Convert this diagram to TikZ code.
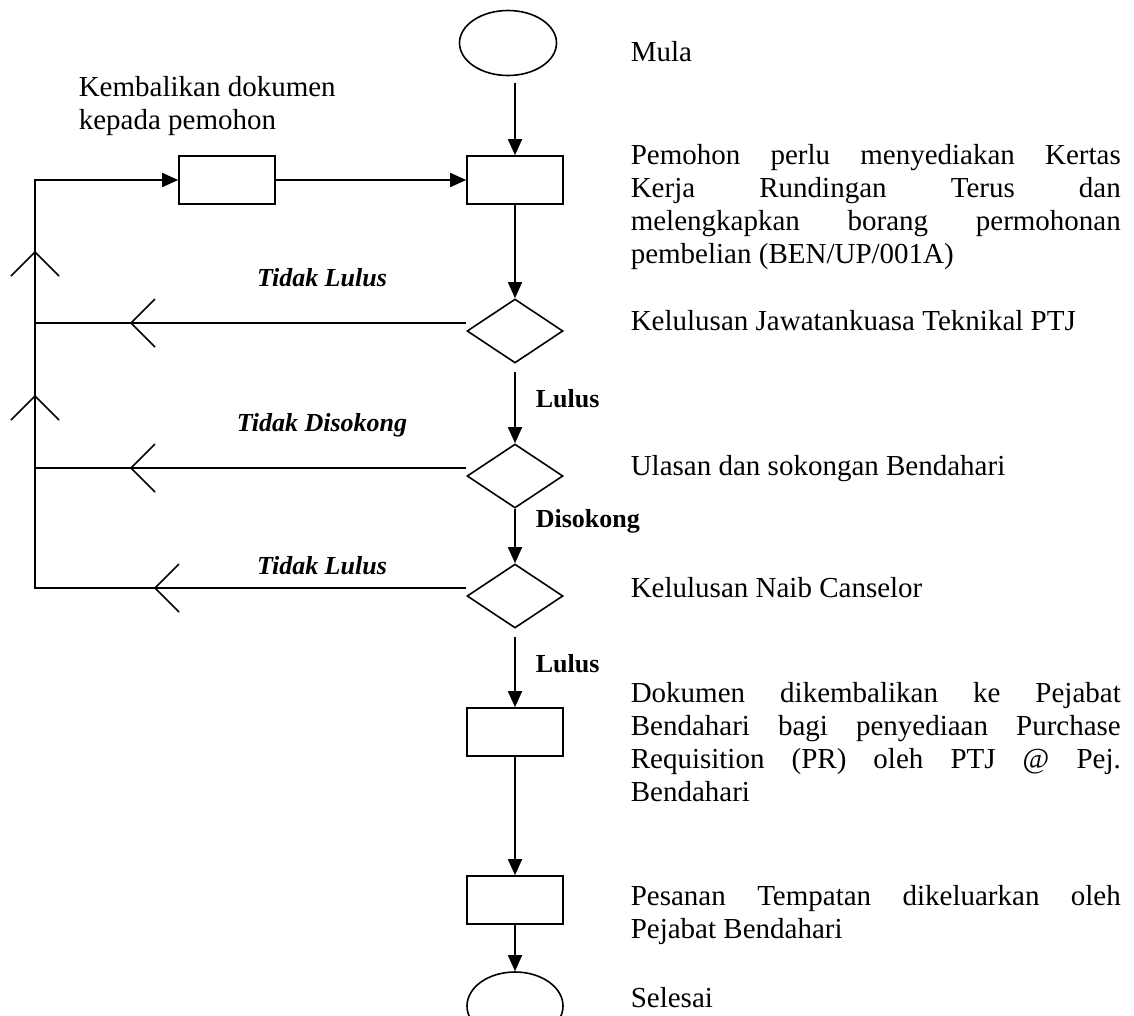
\documentclass[tikz,border=0pt]{standalone}
\usepackage{fontspec}
\setmainfont{Liberation Serif}
\usetikzlibrary{shapes.geometric,arrows.meta,calc}

\newcommand{\baris}[1]{\makebox[490pt][s]{#1}}

\tikzset{
  kotak/.style={draw, rectangle, minimum width=96pt, minimum height=48pt, inner sep=0pt},
  putus/.style={draw, diamond, minimum width=96pt, minimum height=64pt, inner sep=0pt},
  hujung/.style={draw, ellipse, minimum width=97pt, minimum height=65pt, inner sep=0pt},
  teks/.style={inner sep=0pt, font=\fontsize{29}{33}\selectfont},
  perenggan/.style={teks, anchor=north west, align=left},
  keputusan/.style={inner sep=0pt, anchor=base west, font=\fontsize{26}{30}\selectfont\bfseries},
  cabang/.style={inner sep=0pt, anchor=base, font=\fontsize{26}{30}\selectfont\bfseries\itshape},
  pics/kiri/.style={code={\draw (24,-24) -- (0,0) -- (24,24);}},
  pics/naik/.style={code={\draw (-24,24) -- (0,0) -- (24,24);}}
}

\begin{document}
\begin{tikzpicture}[x=1pt, y=-1pt, line width=1.6pt, >={Triangle[length=16pt,width=14pt]}]
    \useasboundingbox (0,0) rectangle (1134,1015);

    % carta alir
    \node[hujung] (mula) at (508,43) {};
    \node[kotak] (kertas) at (515,180) {};
    \node[kotak] (pulang) at (227,180) {};
    \node[putus] (ptj) at (515,331) {};
    \node[putus] (sokong) at (515,476) {};
    \node[putus] (nc) at (515,596) {};
    \node[kotak] (pr) at (515,732) {};
    \node[kotak] (pesanan) at (515,900) {};
    \node[hujung, minimum width=96pt, minimum height=68pt] (selesai) at (515,1006) {};

    \draw[->] ($(mula.south -| kertas.north)+(0,7)$) -- (kertas.north);
    \draw[->] (pulang) -- (kertas);
    \draw[->] (kertas) -- (ptj);
    \draw[->] ($(ptj.south)+(0,8)$) -- (sokong.north);
    \draw[->] (sokong) -- (nc);
    \draw[->] ($(nc.south)+(0,8)$) -- (pr.north);
    \draw[->] (pr) -- (pesanan);
    \draw[->] (pesanan) -- (selesai);

    % balik ke pemohon
    \coordinate (k1) at ([yshift=8pt]ptj.west);
    \coordinate (k2) at ([yshift=8pt]sokong.west);
    \coordinate (k3) at ([yshift=8pt]nc.west);
    \coordinate (tepi) at (35,0);
    \draw (k1) -- (k1 -| tepi);
    \draw (k2) -- (k2 -| tepi);
    \draw[->] (k3) -- (k3 -| tepi) |- (pulang.west);
    \pic at (131,323) {kiri};
    \pic at (131,468) {kiri};
    \pic at (155,588) {kiri};
    \pic at (35,252) {naik};
    \pic at (35,396) {naik};

    \node[keputusan] (tLulusA) at (535,407) {Lulus};
    \node[keputusan] (tDisokong) at (535,527) {Disokong};
    \node[keputusan] (tLulusB) at (535,672) {Lulus};
    \node[cabang] (tTidakA) at (322,286) {Tidak Lulus};
    \node[cabang] (tTidakB) at (322,431) {Tidak Disokong};
    \node[cabang] (tTidakC) at (322,574) {Tidak Lulus};

    % keterangan
    \node[teks, anchor=base west] (tMula) at (630,61) {Mula};
    \node[perenggan] (tBalik) at (78,76) {Kembalikan dokumen\\kepada pemohon};
    \node[perenggan] (tPemohon) at (630,144) {\baris{Pemohon perlu menyediakan Kertas}\\
        \baris{Kerja Rundingan Terus dan}\\
        \baris{melengkapkan borang permohonan}\\
        pembelian (BEN/UP/001A)};
    \node[teks, anchor=base west] (tPTJ) at (630,330) {Kelulusan Jawatankuasa Teknikal PTJ};
    \node[teks, anchor=base west] (tUlasan) at (630,475) {Ulasan dan sokongan Bendahari};
    \node[teks, anchor=base west] (tNC) at (630,597) {Kelulusan Naib Canselor};
    \node[perenggan] (tDokumen) at (630,682) {\baris{Dokumen dikembalikan ke Pejabat}\\
        \baris{Bendahari bagi penyediaan Purchase}\\
        \baris{Requisition (PR) oleh PTJ @ Pej.}\\
        Bendahari};
    \node[perenggan] (tPesanan) at (630,885) {\baris{Pesanan Tempatan dikeluarkan oleh}\\
        Pejabat Bendahari};
    \node[teks, anchor=base west] (tSelesai) at (630,1007) {Selesai};
\end{tikzpicture}
\end{document}
